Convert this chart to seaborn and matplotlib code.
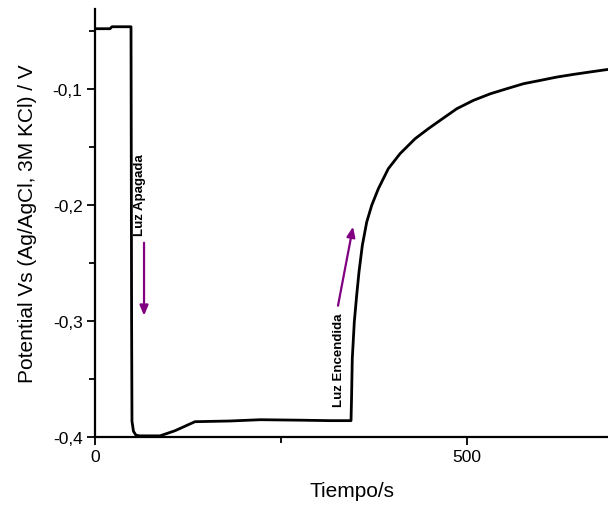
import matplotlib
matplotlib.use("Agg")
import matplotlib.pyplot as plt
import matplotlib.ticker as mticker
import seaborn as sns
import pandas as pd

# Data
tiempo = [0, 20.2, 22.8, 48.4, 49.2, 49.7, 51.7, 55.1, 60.0, 87.4, 107.5, 134.4,
          181.5, 221.8, 275.5, 315.9, 344.1, 344.8, 345.8, 348.5, 351.7, 354.8,
          359.3, 365.2, 371.9, 380.8, 394.2, 409.9, 430.1, 448.0, 463.7, 486.2,
          508.5, 531.3, 553.6, 576.0, 598.1, 620.6, 642.9, 665.3, 689.5]
potencial = [-0.0480, -0.0480, -0.0463, -0.0463, -0.3000, -0.3864, -0.3951,
             -0.3985, -0.3990, -0.3990, -0.3946, -0.3868, -0.3862, -0.3851,
             -0.3855, -0.3859, -0.3859, -0.3670, -0.3325, -0.3009, -0.2779,
             -0.2578, -0.2348, -0.2147, -0.2003, -0.1860, -0.1687, -0.1558,
             -0.1429, -0.1342, -0.1271, -0.1170, -0.1098, -0.1041, -0.0997,
             -0.0954, -0.0926, -0.0897, -0.0874, -0.0853, -0.0831]

x_ticks = [0, 500]
x_ticklabels = ["0", "500"]
y_ticks = [-0.4, -0.3, -0.2, -0.1]
y_ticklabels = ["-0,4", "-0,3", "-0,2", "-0,1"]

df = pd.DataFrame({"Tiempo": tiempo, "Potencial": potencial})

sns.set_style("white")
plt.rcParams["font.family"] = ["Liberation Sans", "DejaVu Sans"]
plt.rcParams["text.color"] = "black"
plt.rcParams["axes.labelcolor"] = "black"

fig = plt.figure(figsize=(6.08, 5.06), dpi=100)
ax = fig.add_axes([95 / 608, 68 / 506, 1 - 95 / 608, (438 - 10) / 506])

sns.lineplot(data=df, x="Tiempo", y="Potencial", sort=False, estimator=None,
             color="black", linewidth=2.0, ax=ax)

ax.set_xlim(0, 689.5)
ax.set_ylim(-0.4, -0.031)

ax.set_xticks(x_ticks)
ax.set_xticklabels(x_ticklabels)
ax.set_yticks(y_ticks)
ax.set_yticklabels(y_ticklabels)
ax.xaxis.set_minor_locator(mticker.MultipleLocator(250))
ax.yaxis.set_minor_locator(mticker.MultipleLocator(0.05))

for side in ["top", "right"]:
    ax.spines[side].set_visible(False)
for side in ["left", "bottom"]:
    ax.spines[side].set_color("black")
    ax.spines[side].set_linewidth(1.6)

ax.tick_params(which="major", direction="out", length=6, width=1.3, colors="black",
               labelsize=12.5, pad=3)
ax.tick_params(which="minor", direction="out", length=4, width=1.3, colors="black")
ax.tick_params(axis="x", which="both", bottom=True)
ax.tick_params(axis="y", which="both", left=True)

ax.set_xlabel("Tiempo/s", fontsize=15, labelpad=12, color="black")
ax.set_ylabel("Potential Vs (Ag/AgCl, 3M KCl) / V", fontsize=15, labelpad=11,
              color="black")

# Annotations
label_font = ["Liberation Sans Narrow", "Liberation Sans", "DejaVu Sans"]
ax.text(60.5, -0.191, "Luz Apagada", rotation=90, ha="center", va="center",
        fontsize=9.5, fontweight="bold", family=label_font, color="black")
ax.text(328, -0.333, "Luz Encendida", rotation=90, ha="center", va="center",
        fontsize=9.5, fontweight="bold", family=label_font, color="black")

arrow_kw = dict(arrowstyle="-|>,head_length=0.6,head_width=0.25", color="#800080",
                lw=1.6, shrinkA=0, shrinkB=0)
ax.annotate("", xy=(65.9, -0.2954), xytext=(65.9, -0.2325), arrowprops=arrow_kw)
ax.annotate("", xy=(346.8, -0.2187), xytext=(326.6, -0.2868), arrowprops=arrow_kw)

fig.savefig("out.png", dpi=100)
